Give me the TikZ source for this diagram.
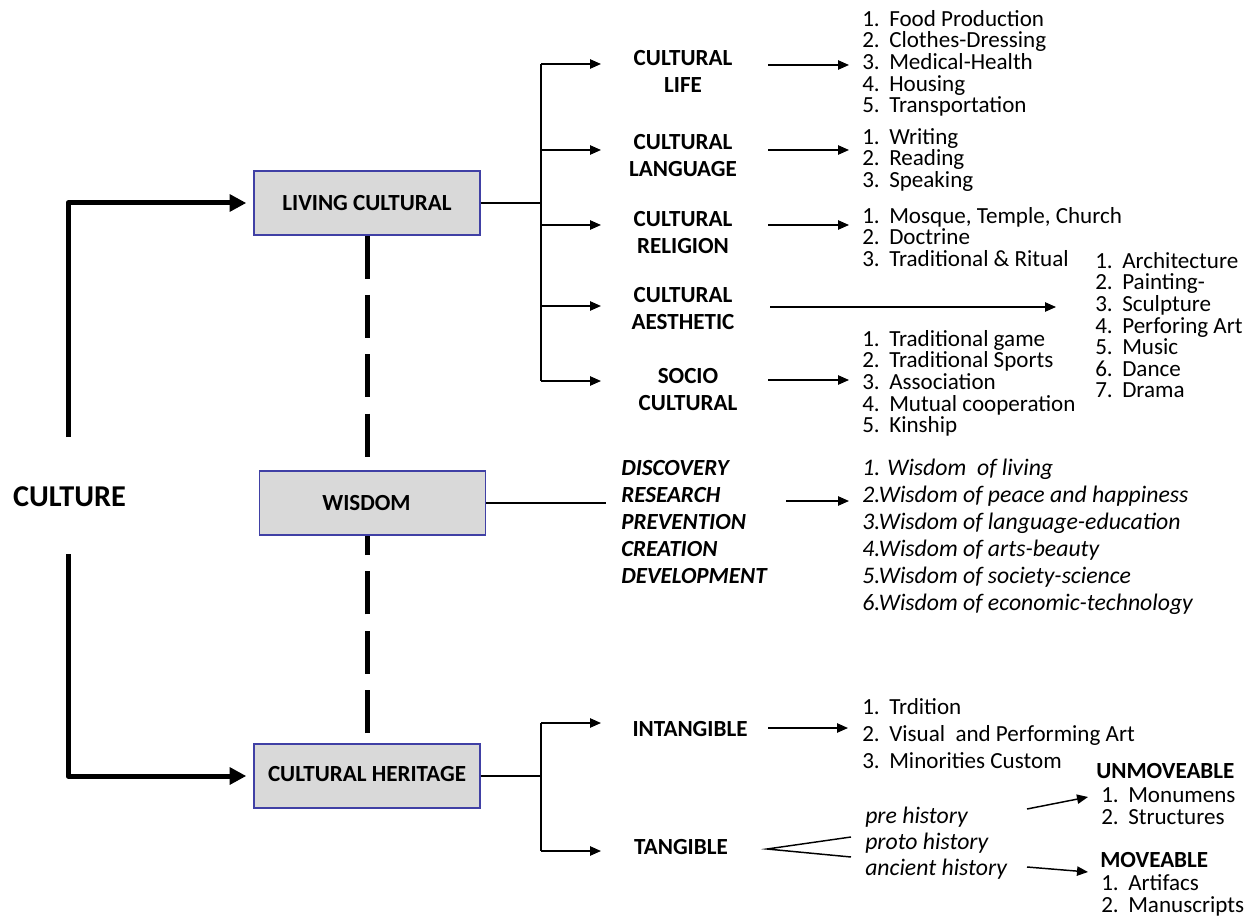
\documentclass[tikz,border=0pt]{standalone}
\usepackage{fontspec}
\setmainfont{Carlito}
\usetikzlibrary{arrows.meta}
\definecolor{boxgray}{HTML}{D9D9D9}
\definecolor{boxblue}{RGB}{64,64,165}
\begin{document}
\begin{tikzpicture}[x=0.75pt,y=-0.75pt,
  box/.style={draw=boxblue,fill=boxgray,line width=1.1pt,minimum width=169.5pt,minimum height=48pt,inner sep=0pt,font=\bfseries\fontsize{17.3}{20}\selectfont},
  thickarr/.style={line width=3.75pt,line join=round,-{Triangle[length=12.5pt,width=12.5pt]}},
  dashline/.style={line width=3.75pt,dash pattern=on 32.25pt off 12.2pt},
  conn/.style={line width=1.1pt},
  arr/.style={conn,-{Triangle[length=8.25pt,width=7pt]}},
  lab/.style={font=\bfseries\fontsize{17.3}{20.25}\selectfont,align=center,inner sep=0pt},
  item/.style={anchor=west,inner sep=0pt,text height=11pt,text depth=0pt,font=\fontsize{17.3}{20}\selectfont},
  witem/.style={item,font=\itshape\fontsize{17.8}{20}\selectfont},
  hitem/.style={item,font=\bfseries\fontsize{17.3}{20}\selectfont},
]
\useasboundingbox (0,0) rectangle (1249,916);

% main boxes
\node[box] (living) at (367,203) {LIVING CULTURAL};
\node[box] (wisdom) at (372.5,503) {\hspace*{-9pt}WISDOM};
\node[box] (heritage) at (367,776) {\raisebox{3.5pt}{CULTURAL HERITAGE}};
\node[inner sep=0pt,font=\bfseries\fontsize{22.7}{26}\selectfont] (culture) at (69.5,497) {CULTURE};

% thick arrows from CULTURE
\coordinate (cup) at (68,437);
\coordinate (cdown) at (68,554);
\draw[thickarr,shorten >=5.25pt] (cup) |- (living.west);
\draw[thickarr,shorten >=5.25pt] (cdown) |- (heritage.west);

% dashed links
\draw[dashline] (living.south) -- (living.south |- wisdom.north);
\draw[dashline,dash phase=36.75pt] (heritage.north) -- (heritage.north |- wisdom.south);

% living cultural tree
\coordinate (lvj) at (541,203);
\coordinate (lvtop) at (541,64);
\coordinate (lvbot) at (541,381);
\draw[conn] (living.east) -- (lvj);
\draw[conn] (lvtop) -- (lvbot);
\foreach \yy/\nm in {64/a,150/b,225/c,306/d,381/e}{
  \coordinate (bs\nm) at (541,\yy);
  \coordinate (bt\nm) at (601,\yy);
  \draw[arr] (bs\nm) -- (bt\nm);
}

% category labels
\node[lab] (clife) at (683,71.5) {CULTURAL\\LIFE};
\node[lab] (clang) at (683,155.5) {CULTURAL\\LANGUAGE};
\node[lab] (crel) at (683,232.5) {CULTURAL\\RELIGION};
\node[lab] (caes) at (683,308.5) {CULTURAL\\AESTHETIC};
\node[lab] (csoc) at (688,389.5) {SOCIO\\CULTURAL};

% arrows to lists
\coordinate (lifes) at (768,65); \coordinate (lifet) at (849,65);
\coordinate (langs) at (768,150); \coordinate (langt) at (849,150);
\coordinate (rels) at (768,225); \coordinate (relt) at (849,225);
\coordinate (aess) at (770,307); \coordinate (aest) at (1056,307);
\coordinate (socs) at (768,380); \coordinate (soct) at (849,380);
\draw[arr] (lifes) -- (lifet);
\draw[arr] (langs) -- (langt);
\draw[arr] (rels) -- (relt);
\draw[arr] (aess) -- (aest);
\draw[arr] (socs) -- (soct);

% lists
\foreach \t [count=\i] in {Food Production,Clothes-Dressing,Medical-Health,Housing,Transportation}
  \node[item] (life\i) at (862,{19+21.6*(\i-1)}) {\makebox[20.25pt][l]{\i.}\t};
\foreach \t [count=\i] in {Writing,Reading,Speaking}
  \node[item] (lang\i) at (862,{137+21.6*(\i-1)}) {\makebox[20.25pt][l]{\i.}\t};
\foreach \t [count=\i] in {{Mosque, Temple, Church},Doctrine,Traditional \& Ritual}
  \node[item] (rel\i) at (862,{216+21.6*(\i-1)}) {\makebox[20.25pt][l]{\i.}\t};
\foreach \t [count=\i] in {Architecture,Painting-,Sculpture,Perforing Art,Music,Dance,Drama}
  \node[item] (aes\i) at (1095,{261+21.6*(\i-1)}) {\makebox[20.25pt][l]{\i.}\t};
\foreach \t [count=\i] in {Traditional game,Traditional Sports,Association,Mutual cooperation,Kinship}
  \node[item] (soc\i) at (862,{339+21.6*(\i-1)}) {\makebox[20.25pt][l]{\i.}\t};

% wisdom branch
\coordinate (wse) at (606,503);
\draw[conn] (wisdom.east) -- (wse);
\node[anchor=north west,inner sep=0pt,align=left,font=\bfseries\itshape\fontsize{17.3}{20.25}\selectfont] (wverbs) at (621,460.6)
  {DISCOVERY\\RESEARCH\\PREVENTION\\CREATION\\DEVELOPMENT};
\coordinate (wars) at (786,501); \coordinate (wart) at (849,501);
\draw[arr] (wars) -- (wart);
\node[witem] (w1) at (862,468) {1. Wisdom~~of living};
\node[witem] (w2) at (862,495) {2.Wisdom of peace and happiness};
\node[witem] (w3) at (862,522) {3.Wisdom of language-education};
\node[witem] (w4) at (862,549) {4.Wisdom of arts-beauty};
\node[witem] (w5) at (862,576) {5.Wisdom of society-science};
\node[witem] (w6) at (862,603) {6.Wisdom of economic-technology};

% heritage tree
\coordinate (hj) at (541,776);
\coordinate (htop) at (541,723);
\coordinate (hbot) at (541,851);
\draw[conn] (heritage.east) -- (hj);
\draw[conn] (htop) -- (hbot);
\coordinate (htopt) at (601,723);
\coordinate (hbott) at (601,851);
\draw[arr] (htop) -- (htopt);
\draw[arr] (hbot) -- (hbott);
\node[lab] (intang) at (690,729) {INTANGIBLE};
\node[lab] (tang) at (681,847) {TANGIBLE};

\coordinate (ints) at (768,728); \coordinate (intt) at (848,728);
\draw[arr] (ints) -- (intt);
\node[item] (int1) at (862,707) {\makebox[20.25pt][l]{1.}Trdition};
\node[item] (int2) at (862,734) {\makebox[20.25pt][l]{2.}Visual~~and Performing Art};
\node[item] (int3) at (862,761) {\makebox[20.25pt][l]{3.}Minorities Custom};

% tangible
\coordinate (tgv) at (767,849);
\coordinate (tgu) at (851,837);
\coordinate (tgl) at (851,857);
\draw[conn] (tgu) -- (tgv) -- (tgl);
\node[witem] (pre) at (865,816) {pre history};
\node[witem] (proto) at (865,842) {proto history};
\node[witem] (anc) at (865,868) {ancient history};

\coordinate (ums) at (1027,809); \coordinate (umt) at (1088,797);
\coordinate (mvs) at (1027,867); \coordinate (mvt) at (1088,872);
\draw[arr] (ums) -- (umt);
\draw[arr] (mvs) -- (mvt);

\node[hitem] (unmov) at (1096,771) {UNMOVEABLE};
\node[item] (um1) at (1101,795) {\makebox[20.25pt][l]{1.}Monumens};
\node[item] (um2) at (1101,817) {\makebox[20.25pt][l]{2.}Structures};
\node[hitem] (mov) at (1100,860) {MOVEABLE};
\node[item] (mv1) at (1101,883) {\makebox[20.25pt][l]{1.}Artifacs};
\node[item] (mv2) at (1101,905) {\makebox[20.25pt][l]{2.}Manuscripts};
\end{tikzpicture}
\end{document}
